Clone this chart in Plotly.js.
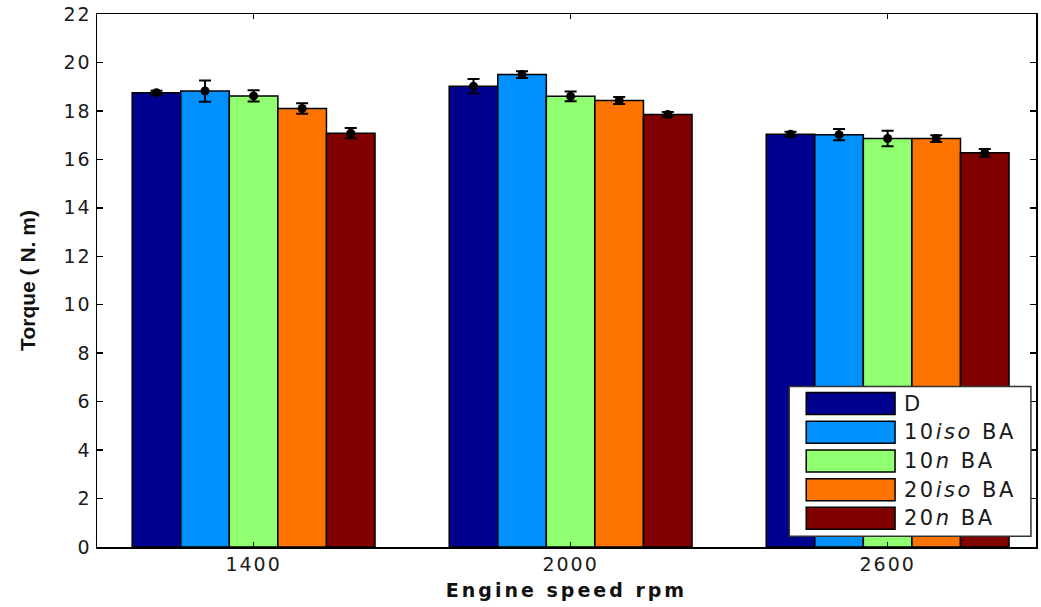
<!DOCTYPE html>
<html>
<head>
<meta charset="utf-8">
<script src="https://cdn.plot.ly/plotly-3.0.1.min.js"></script>
<style>
html,body{margin:0;padding:0;background:#fff;}
#chart{width:1041px;height:607px;}
.xtick text, .ytick text { letter-spacing: 2px; }
.xtitle { letter-spacing: 3px; }
.annotation-text { letter-spacing: 2.5px; }
</style>
</head>
<body>
<div id="chart"></div>
<script>
const categories = ['1400', '2000', '2600'];
const seriesNames = ['D', '10<i>iso</i> BA', '10<i>n</i> BA', '20<i>iso</i> BA', '20<i>n</i> BA'];
const seriesColors = ['#00008f', '#0090ff', '#90ff70', '#ff7300', '#800000'];
const torqueD     = [18.75, 19.02, 17.04];
const torque10iso = [18.82, 19.50, 17.02];
const torque10n   = [18.62, 18.60, 16.86];
const torque20iso = [18.10, 18.43, 16.86];
const torque20n   = [17.08, 17.85, 16.27];
const errD     = [0.08, 0.30, 0.10];
const err10iso = [0.44, 0.14, 0.23];
const err10n   = [0.23, 0.20, 0.32];
const err20iso = [0.22, 0.14, 0.14];
const err20n   = [0.21, 0.10, 0.16];

const values = [torqueD, torque10iso, torque10n, torque20iso, torque20n];
const errors = [errD, err10iso, err10n, err20iso, err20n];

const traces = [];
values.forEach((v, i) => {
  traces.push({
    type: 'bar', x: categories, y: v, name: seriesNames[i],
    marker: {color: seriesColors[i], line: {color: '#000', width: 1.5}},
    offsetgroup: 'g' + i, showlegend: false, hoverinfo: 'skip'
  });
});
values.forEach((v, i) => {
  traces.push({
    type: 'scatter', mode: 'markers', x: categories, y: v,
    marker: {color: '#000', size: 9},
    error_y: {type: 'data', array: errors[i], visible: true, color: '#000', thickness: 2, width: 6},
    offsetgroup: 'g' + i, showlegend: false, hoverinfo: 'skip'
  });
});

// custom legend (large swatches like the original)
const shapes = [];
const annotations = [];
const legX0 = 0.7372, legX1 = 0.9946, legY0 = 0.02, legY1 = 0.301;
shapes.push({type: 'rect', xref: 'paper', yref: 'paper', x0: legX0, x1: legX1, y0: legY0, y1: legY1,
  line: {color: '#333', width: 1.5}, fillcolor: '#fff', layer: 'above'});
const rowPitch = 28.7 / 533, swH = 22 / 533;
seriesNames.forEach((n, i) => {
  const yc = legY1 - (17 / 533) - i * rowPitch;
  shapes.push({type: 'rect', xref: 'paper', yref: 'paper',
    x0: 0.7553, x1: 0.8499, y0: yc - swH / 2, y1: yc + swH / 2,
    line: {color: '#000', width: 1.5}, fillcolor: seriesColors[i], layer: 'above'});
  annotations.push({xref: 'paper', yref: 'paper', x: 0.8575, y: yc, xanchor: 'left', yanchor: 'middle',
    text: n, showarrow: false, font: {family: 'DejaVu Sans, sans-serif', size: 21, color: '#1a1a1a'}});
});

const layout = {
  width: 1041, height: 607,
  margin: {l: 97, r: 5, t: 14, b: 60},
  paper_bgcolor: '#fff', plot_bgcolor: '#fff',
  barmode: 'group', bargap: 0.234, bargroupgap: 0,
  scattermode: 'group', scattergap: 0.234,
  showlegend: false,
  font: {family: 'DejaVu Sans, sans-serif', size: 18, color: '#1a1a1a'},
  xaxis: {
    type: 'category', range: [-0.494, 2.468],
    showline: true, linecolor: '#000', linewidth: 1.5, mirror: 'ticks',
    ticks: 'inside', ticklen: 5, tickcolor: '#000', tickwidth: 1.5,
    showgrid: false, zeroline: false,
    tickfont: {family: 'DejaVu Sans, sans-serif', size: 19},
    title: {text: '<b>Engine speed rpm</b>', font: {family: 'DejaVu Sans, sans-serif', size: 19, color: '#111'}, standoff: 9}
  },
  yaxis: {
    range: [0, 22], dtick: 2,
    showline: true, linecolor: '#000', linewidth: 1.5, mirror: 'ticks',
    ticks: 'inside', ticklen: 6, tickcolor: '#000', tickwidth: 1.5,
    showgrid: false, zeroline: false,
    tickfont: {family: 'DejaVu Sans, sans-serif', size: 19},
    title: {text: '<b>Torque ( N. m)</b>', font: {family: 'Liberation Sans, Arial, sans-serif', size: 21, color: '#111'}, standoff: 22}
  },
  shapes: shapes,
  annotations: annotations
};

Plotly.newPlot('chart', traces, layout, {displayModeBar: false, staticPlot: true});
</script>
</body>
</html>
